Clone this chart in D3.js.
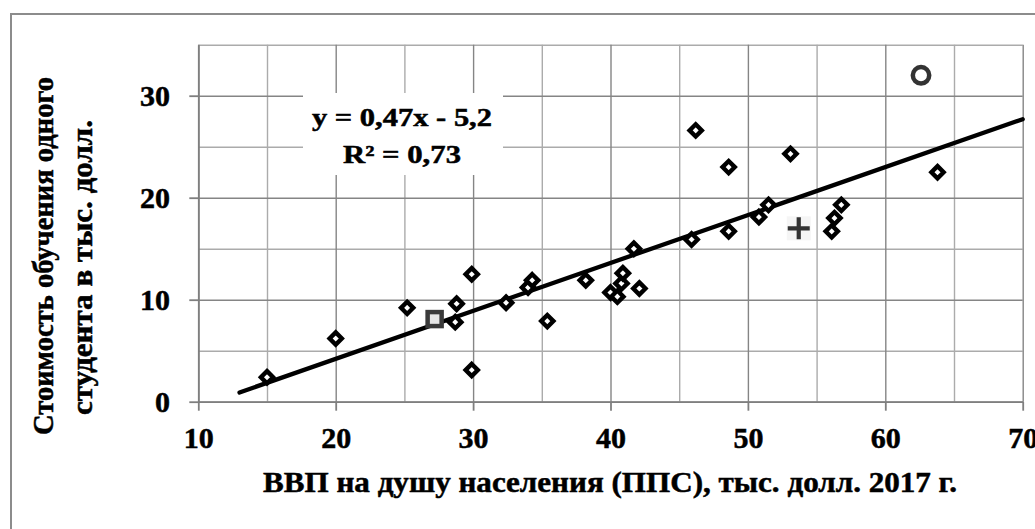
<!DOCTYPE html>
<html>
<head>
<meta charset="utf-8">
<script src="https://cdn.jsdelivr.net/npm/d3@7"></script>
<style>
  body { margin: 0; background: #fff; }
  text { font-family: "Liberation Serif", "Times New Roman", serif; font-weight: bold; fill: #000; stroke: #000; stroke-width: 0.5px; }
</style>
</head>
<body>
<div id="chart"></div>
<script>
// GDP per capita (PPP), thousand USD 2017
const gdp = [15.0, 20.0, 25.2, 28.8, 28.7, 29.9, 29.9, 32.4, 34.0, 34.3, 35.4, 38.2, 40.0, 40.5,
  40.8, 40.9, 42.1, 41.7, 45.9, 46.2, 48.6, 48.6, 50.8, 51.5, 53.1, 56.1, 56.3, 56.8, 63.8];
// cost per student, thousand USD
const cost = [2.4, 6.2, 9.2, 9.6, 7.8, 12.5, 3.1, 9.7, 11.2, 11.9, 7.9, 11.9, 10.7, 10.3,
  11.6, 12.6, 11.1, 15.0, 15.9, 26.6, 16.7, 23.0, 18.1, 19.3, 24.3, 16.7, 18.0, 19.3, 22.5];

// highlighted countries
const squarePoint = [27.2, 8.1];
const plusPoint = [53.7, 17.0];
const circlePoint = [62.6, 32.0];

// linear trend
const slope = 0.47;
const intercept = -5.2;
const trendFrom = 13;
const equationLines = ["y = 0,47x - 5,2", "R² = 0,73"];

const xMajor = [10, 20, 30, 40, 50, 60, 70];
const xMinor = [15, 25, 35, 45, 55, 65];
const yMajor = [0, 10, 20, 30];
const yMinor = [5, 15, 25, 35];

const xTitle = "ВВП на душу населения (ППС), тыс. долл. 2017 г.";
const yTitle = ["Стоимость обучения одного", "студента в тыс. долл."];

document.addEventListener("DOMContentLoaded", () => {
    const svgWidth = 1035;
    const svgHeight = 529;
    const margin = { top: 44.7, left: 198.3 };
    const width = 824.4;
    const height = 357;

    const svg = d3.select("#chart").append("svg")
        .attr("width", svgWidth)
        .attr("height", svgHeight);

    // outer frame
    svg.append("rect")
        .attr("x", 11)
        .attr("y", 14)
        .attr("width", 1100)
        .attr("height", 600)
        .attr("fill", "none")
        .attr("stroke", "#8c8c8c")
        .attr("stroke-width", 2);

    const g = svg.append("g")
        .attr("transform", `translate(${margin.left}, ${margin.top})`);

    const x = d3.scaleLinear().domain([10, 70]).range([0, width]);
    const y = d3.scaleLinear().domain([0, 35]).range([height, 0]);

    // grid lines
    function grid(axis, cls, color) {
        const gg = g.append("g").attr("class", cls).call(axis);
        gg.select(".domain").remove();
        gg.selectAll("line").attr("stroke", color).attr("stroke-width", 1.4);
        return gg;
    }
    grid(d3.axisBottom(x).tickValues(xMinor).tickSize(-height).tickFormat(""), "gx-minor", "#ababab")
        .attr("transform", `translate(0, ${height})`);
    grid(d3.axisLeft(y).tickValues(yMinor).tickSize(-width).tickFormat(""), "gy-minor", "#ababab");
    grid(d3.axisBottom(x).tickValues(xMajor).tickSize(-height).tickFormat(""), "gx-major", "#858585")
        .attr("transform", `translate(0, ${height})`);
    grid(d3.axisLeft(y).tickValues(yMajor).tickSize(-width).tickFormat(""), "gy-major", "#858585");

    // axes
    const xAxis = g.append("g")
        .attr("transform", `translate(0, ${height})`)
        .call(d3.axisBottom(x).tickValues(xMajor).tickSize(9).tickSizeOuter(0));
    const yAxis = g.append("g")
        .call(d3.axisLeft(y).tickValues(yMajor).tickSize(9).tickSizeOuter(0));

    [xAxis, yAxis].forEach(a => {
        a.select(".domain").attr("stroke", "#7f7f7f").attr("stroke-width", 1.8);
        a.selectAll(".tick line").attr("stroke", "#7f7f7f").attr("stroke-width", 1.8);
        a.selectAll("text")
            .attr("font-family", null)
            .attr("font-size", 30)
            .attr("fill", "#000");
    });
    xAxis.selectAll("text").attr("y", 46.3).attr("dy", null);
    yAxis.selectAll("text").attr("x", -28.3).attr("dy", "0.32em");

    // trend label background
    g.append("rect")
        .attr("x", 303 - margin.left)
        .attr("y", 93 - margin.top)
        .attr("width", 200)
        .attr("height", 82)
        .attr("fill", "#fff");

    // trend line
    g.append("line")
        .attr("x1", x(trendFrom))
        .attr("y1", y(slope * trendFrom + intercept))
        .attr("x2", x(70))
        .attr("y2", y(slope * 70 + intercept))
        .attr("stroke", "#000")
        .attr("stroke-width", 4.3)
        .attr("stroke-linecap", "round");

    // diamonds
    const pts = gdp.map((v, i) => ({ x: v, y: cost[i] }));
    const h = 6.1;
    g.selectAll(".dot")
        .data(pts)
        .enter().append("path")
        .attr("class", "dot")
        .attr("d", `M0,${-h}L${h},0L0,${h}L${-h},0Z`)
        .attr("transform", d => `translate(${x(d.x)}, ${y(d.y)})`)
        .attr("fill", "#fff")
        .attr("stroke", "#000")
        .attr("stroke-width", 4.4)
        .attr("stroke-linejoin", "miter");

    // square
    g.append("rect")
        .attr("x", x(squarePoint[0]) - 7)
        .attr("y", y(squarePoint[1]) - 7)
        .attr("width", 14)
        .attr("height", 14)
        .attr("fill", "#e6e6e6")
        .attr("stroke", "#3a3a3a")
        .attr("stroke-width", 4.5);

    // plus
    const px = x(plusPoint[0]), py = y(plusPoint[1]);
    g.append("rect")
        .attr("x", px - 12).attr("y", py - 12)
        .attr("width", 24).attr("height", 24)
        .attr("fill", "#f5f5f5");
    g.append("path")
        .attr("d", `M${px - 11},${py}H${px + 11}M${px},${py - 11}V${py + 11}`)
        .attr("stroke", "#333")
        .attr("stroke-width", 4.2);

    // circle
    g.append("circle")
        .attr("cx", x(circlePoint[0]))
        .attr("cy", y(circlePoint[1]))
        .attr("r", 8.2)
        .attr("fill", "#fff")
        .attr("stroke", "#333")
        .attr("stroke-width", 4.5);

    // equation
    svg.append("text")
        .attr("x", 402).attr("y", 126)
        .attr("text-anchor", "middle")
        .attr("font-size", 25)
        .attr("textLength", 180).attr("lengthAdjust", "spacingAndGlyphs")
        .text(equationLines[0]);
    svg.append("text")
        .attr("x", 402).attr("y", 162.7)
        .attr("text-anchor", "middle")
        .attr("font-size", 25)
        .attr("textLength", 118).attr("lengthAdjust", "spacingAndGlyphs")
        .text(equationLines[1]);

    // axis titles
    svg.append("text")
        .attr("x", 610).attr("y", 491.7)
        .attr("text-anchor", "middle")
        .attr("font-size", 29)
        .attr("textLength", 694).attr("lengthAdjust", "spacingAndGlyphs")
        .text(xTitle);

    svg.append("text")
        .attr("transform", "translate(53.3, 256) rotate(-90)")
        .attr("text-anchor", "middle")
        .attr("font-size", 30)
        .attr("textLength", 358).attr("lengthAdjust", "spacingAndGlyphs")
        .text(yTitle[0]);
    svg.append("text")
        .attr("transform", "translate(91.7, 267.5) rotate(-90)")
        .attr("text-anchor", "middle")
        .attr("font-size", 30)
        .attr("textLength", 295).attr("lengthAdjust", "spacingAndGlyphs")
        .text(yTitle[1]);
});
</script>
</body>
</html>
